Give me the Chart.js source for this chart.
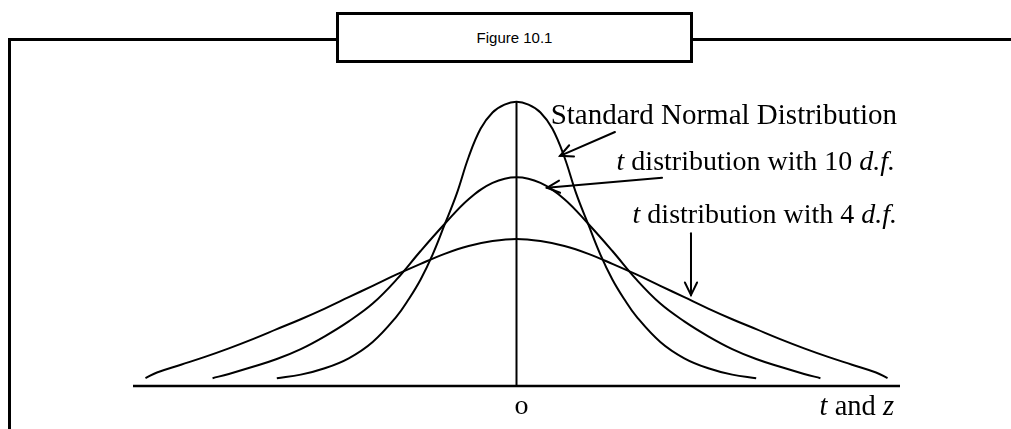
<!DOCTYPE html>
<html>
<head>
<meta charset="utf-8">
<script src="https://cdn.jsdelivr.net/npm/chart.js@4.4.1/dist/chart.umd.min.js"></script>
<style>
  html, body { margin: 0; padding: 0; background: #fff; }
  #wrap { position: relative; width: 1011px; height: 429px; overflow: hidden; }
  #c { position: absolute; left: 0; top: 0; }
  .hline { position: absolute; left: 8px; top: 38px; width: 1003px; height: 3px; background: #000; }
  .vline { position: absolute; left: 8px; top: 38px; width: 3px; height: 391px; background: #000; }
  .box { position: absolute; left: 336px; top: 12px; width: 351px; height: 45px; border: 3px solid #000; background: #fff;
         font-family: "Liberation Sans", Arial, sans-serif; font-size: 15px; color: #000;
         display: flex; align-items: center; justify-content: center; }
</style>
</head>
<body>
<div id="wrap">
  <div class="hline"></div>
  <div class="vline"></div>
  <div class="box">Figure 10.1</div>
  <canvas id="c" width="1011" height="429"></canvas>
</div>
<script>
// ---- data (x in "t / z" units, y in density-like units) ----
const normalX = [-2.5,-2.25,-2,-1.75,-1.5,-1.25,-1.125,-1,-0.875,-0.75,-0.625,-0.5,-0.375,-0.25,-0.125,0,
                 0.125,0.25,0.375,0.5,0.625,0.75,0.875,1,1.125,1.25,1.5,1.75,2,2.25,2.5];
const normalY = [0.011,0.016,0.025,0.039,0.062,0.098,0.122,0.150,0.185,0.227,0.270,0.322,0.362,0.385,0.396,0.400,
                 0.396,0.385,0.362,0.322,0.270,0.227,0.185,0.150,0.122,0.098,0.062,0.039,0.025,0.016,0.011];

const t10X = [-3.17,-3,-2.75,-2.5,-2.25,-2,-1.75,-1.5,-1.25,-1,-0.75,-0.5,-0.25,0,0.25,0.5,0.75,1,1.25,1.5,1.75,2,2.25,2.5,2.75,3,3.17];
const t10Y = [0.011,0.017,0.027,0.038,0.052,0.070,0.091,0.116,0.150,0.190,0.228,0.263,0.286,0.294,0.286,0.263,0.228,0.190,0.150,0.116,0.091,0.070,0.052,0.038,0.027,0.017,0.011];

const t4X = [-3.87,-3.75,-3.5,-3.25,-3,-2.75,-2.5,-2.25,-2,-1.75,-1.5,-1.25,-1,-0.75,-0.5,-0.25,0,0.25,0.5,0.75,1,1.25,1.5,1.75,2,2.25,2.5,2.75,3,3.25,3.5,3.75,3.87];
const t4Y = [0.011,0.019,0.030,0.041,0.053,0.066,0.080,0.094,0.109,0.125,0.141,0.157,0.172,0.186,0.197,0.204,0.207,0.204,0.197,0.186,0.172,0.157,0.141,0.125,0.109,0.094,0.080,0.066,0.053,0.041,0.030,0.019,0.011];

const axisX = [-4, 4];          // horizontal axis extent
const axisY = [0, 0];
const centerX = [0, 0];         // vertical line at 0
const centerY = [0, 0.400];

const xMin = -4, xMax = 4, yMin = 0, yMax = 0.48;

// annotation text and arrows (data coordinates)
const label1 = [["Standard Normal Distribution", false]];
const label2 = [["t", true], [" distribution with 10 ", false], ["d.f.", true]];
const label3 = [["t", true], [" distribution with 4 ", false], ["d.f.", true]];
const axisLabel = [["t", true], [" and ", false], ["z", true]];
const originLabel = "o";

const labelRightX = 3.969;
const labelBaseY = [0.369, 0.304, 0.229];
const arrows = [
  { from: [1.027, 0.3575], to: [0.454, 0.324] },
  { from: [1.518, 0.293],  to: [0.318, 0.279] },
  { from: [1.820, 0.215],  to: [1.820, 0.128] }
];

function pts(xs, ys) { return xs.map((x, i) => ({ x: x, y: ys[i] })); }

const serif = '"Liberation Serif", "Times New Roman", serif';

function drawRich(ctx, segs, rightX, baseY, size) {
  let total = 0;
  const widths = segs.map(s => {
    ctx.font = (s[1] ? 'italic ' : '') + size + 'px ' + serif;
    const w = ctx.measureText(s[0]).width;
    total += w;
    return w;
  });
  let x = rightX - total;
  segs.forEach((s, i) => {
    ctx.font = (s[1] ? 'italic ' : '') + size + 'px ' + serif;
    ctx.fillText(s[0], x, baseY);
    x += widths[i];
  });
}

const annot = {
  id: 'annot',
  afterDatasetsDraw(chart) {
    const ctx = chart.ctx;
    const xs = chart.scales.x, ys = chart.scales.y;
    ctx.save();
    ctx.fillStyle = '#000';
    ctx.textBaseline = 'alphabetic';
    ctx.textAlign = 'left';
    const rx = xs.getPixelForValue(labelRightX);
    drawRich(ctx, label1, rx, ys.getPixelForValue(labelBaseY[0]), 29);
    drawRich(ctx, label2, rx - 2, ys.getPixelForValue(labelBaseY[1]), 28);
    drawRich(ctx, label3, rx, ys.getPixelForValue(labelBaseY[2]), 28);
    drawRich(ctx, axisLabel, rx - 3, 415, 28.5);
    ctx.font = '28px ' + serif;
    ctx.textAlign = 'center';
    ctx.fillText(originLabel, xs.getPixelForValue(0) + 5, 414);

    ctx.strokeStyle = '#000';
    ctx.lineWidth = 2;
    ctx.lineCap = 'round';
    arrows.forEach(a => {
      const x1 = xs.getPixelForValue(a.from[0]), y1 = ys.getPixelForValue(a.from[1]);
      const x2 = xs.getPixelForValue(a.to[0]),   y2 = ys.getPixelForValue(a.to[1]);
      ctx.beginPath(); ctx.moveTo(x1, y1); ctx.lineTo(x2, y2); ctx.stroke();
      const ang = Math.atan2(y2 - y1, x2 - x1);
      const L = 14, spread = 0.45;
      ctx.beginPath();
      ctx.moveTo(x2 - L * Math.cos(ang - spread), y2 - L * Math.sin(ang - spread));
      ctx.lineTo(x2, y2);
      ctx.lineTo(x2 - L * Math.cos(ang + spread), y2 - L * Math.sin(ang + spread));
      ctx.stroke();
    });
    ctx.restore();
  }
};

const curveStyle = { showLine: true, pointRadius: 0, borderColor: '#000', borderWidth: 2,
                     tension: 0.4, fill: false, clip: false };

new Chart(document.getElementById('c'), {
  type: 'scatter',
  data: {
    datasets: [
      Object.assign({ label: 'Standard Normal Distribution', data: pts(normalX, normalY) }, curveStyle),
      Object.assign({ label: 't distribution with 10 d.f.', data: pts(t10X, t10Y) }, curveStyle),
      Object.assign({ label: 't distribution with 4 d.f.', data: pts(t4X, t4Y) }, curveStyle),
      Object.assign({ label: 'axis', data: pts(axisX, axisY) }, curveStyle, { borderWidth: 2.5, tension: 0 }),
      Object.assign({ label: 'center', data: pts(centerX, centerY) }, curveStyle, { tension: 0 })
    ]
  },
  options: {
    responsive: false,
    animation: false,
    layout: { padding: { left: 133, right: 111, top: 45, bottom: 43 } },
    plugins: { legend: { display: false }, tooltip: { enabled: false }, title: { display: false } },
    scales: {
      x: { type: 'linear', min: xMin, max: xMax, display: false },
      y: { type: 'linear', min: yMin, max: yMax, display: false }
    }
  },
  plugins: [annot]
});
</script>
</body>
</html>
